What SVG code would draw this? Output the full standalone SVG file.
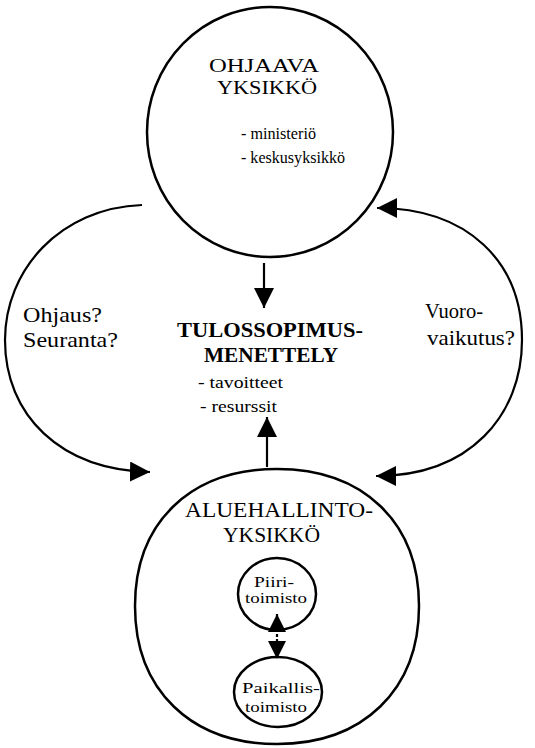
<svg xmlns="http://www.w3.org/2000/svg" width="535" height="748" viewBox="0 0 535 748">
<style>
  .shape { fill: none; stroke: #000; stroke-width: 2.5; }
  .conn { fill: none; stroke: #000; stroke-width: 2.2; }
  .t { font-family: "Liberation Serif", "DejaVu Serif", serif; fill: #000; }
  .big { font-size: 20px; }
  .top { font-size: 19px; }
  .bold { font-size: 21px; font-weight: bold; }
  .mid { font-size: 16px; }
  .lab { font-size: 21px; }
  .sm { font-size: 15px; }
</style>
<defs>
  <marker id="ah" viewBox="0 0 20 20" refX="20" refY="10" markerWidth="20" markerHeight="20" markerUnits="userSpaceOnUse" orient="auto">
    <path d="M0,0 L20,10 L0,20 Z" fill="#000"/>
  </marker>
  <marker id="ahs" viewBox="0 0 20 20" refX="20" refY="10" markerWidth="20" markerHeight="20" markerUnits="userSpaceOnUse" orient="auto-start-reverse">
    <path d="M0,0 L20,10 L0,20 Z" fill="#000"/>
  </marker>
  <marker id="ahsm" viewBox="0 0 18 18" refX="18" refY="9" markerWidth="18" markerHeight="18" markerUnits="userSpaceOnUse" orient="auto-start-reverse">
    <path d="M0,0 L18,9 L0,18 Z" fill="#000"/>
  </marker>
</defs>

<g id="connectors">
  <path class="conn" d="M142,205 C60,208 5,270 5,340 C5,415 60,470 150,472" marker-end="url(#ah)"/>
  <path class="conn" d="M376,476 C470,476 522,415 522,340 C522,262 468,208 377,208" marker-start="url(#ahs)" marker-end="url(#ahs)"/>
  <path class="conn" d="M264,263 L264,308" marker-end="url(#ah)"/>
  <path class="conn" d="M267,467 L267,417" marker-end="url(#ah)"/>
  <path class="conn" d="M277,614 L277,659" stroke-dasharray="3,2" marker-start="url(#ahsm)" marker-end="url(#ahsm)"/>
</g>

<g id="ohjaava">
  <ellipse class="shape" cx="270" cy="132" rx="123" ry="125"/>
  <text class="t top" x="209" y="72" textLength="110" lengthAdjust="spacingAndGlyphs">OHJAAVA</text>
  <text class="t top" x="217" y="94" textLength="100" lengthAdjust="spacingAndGlyphs">YKSIKKÖ</text>
  <text class="t mid" x="241" y="139" textLength="75" lengthAdjust="spacingAndGlyphs">- ministeriö</text>
  <text class="t mid" x="241" y="163" textLength="104" lengthAdjust="spacingAndGlyphs">- keskusyksikkö</text>
</g>

<g id="ohjaus-label">
  <text class="t lab" x="23" y="322" textLength="79" lengthAdjust="spacingAndGlyphs">Ohjaus?</text>
  <text class="t lab" x="23" y="347" textLength="95" lengthAdjust="spacingAndGlyphs">Seuranta?</text>
</g>

<g id="vuoro-label">
  <text class="t lab" x="425" y="318" textLength="58" lengthAdjust="spacingAndGlyphs">Vuoro-</text>
  <text class="t lab" x="427" y="345" textLength="88" lengthAdjust="spacingAndGlyphs">vaikutus?</text>
</g>

<g id="tulossopimus">
  <text class="t bold" x="177" y="337" textLength="186" lengthAdjust="spacingAndGlyphs">TULOSSOPIMUS-</text>
  <text class="t bold" x="204" y="362" textLength="134" lengthAdjust="spacingAndGlyphs">MENETTELY</text>
  <text class="t mid" x="198" y="388" textLength="85" lengthAdjust="spacingAndGlyphs">- tavoitteet</text>
  <text class="t mid" x="200" y="412" textLength="77" lengthAdjust="spacingAndGlyphs">- resurssit</text>
</g>

<g id="aluehallinto">
  <path class="shape" d="M277,469 C363,469 419,522 419,606 C419,690 363,744 277,744 C191,744 135,690 135,606 C135,522 191,469 277,469 Z"/>
  <text class="t big" x="185" y="517" textLength="188" lengthAdjust="spacingAndGlyphs">ALUEHALLINTO-</text>
  <text class="t big" x="223" y="542" textLength="97" lengthAdjust="spacingAndGlyphs">YKSIKKÖ</text>
</g>

<g id="piiritoimisto">
  <ellipse class="shape" cx="277" cy="594" rx="39" ry="36"/>
  <text class="t sm" x="254" y="587" textLength="40" lengthAdjust="spacingAndGlyphs">Piiri-</text>
  <text class="t sm" x="245" y="603" textLength="62" lengthAdjust="spacingAndGlyphs">toimisto</text>
</g>

<g id="paikallistoimisto">
  <ellipse class="shape" cx="278" cy="692" rx="44" ry="35"/>
  <text class="t sm" x="242" y="693" textLength="78" lengthAdjust="spacingAndGlyphs">Paikallis-</text>
  <text class="t sm" x="245" y="712" textLength="62" lengthAdjust="spacingAndGlyphs">toimisto</text>
</g>
</svg>
